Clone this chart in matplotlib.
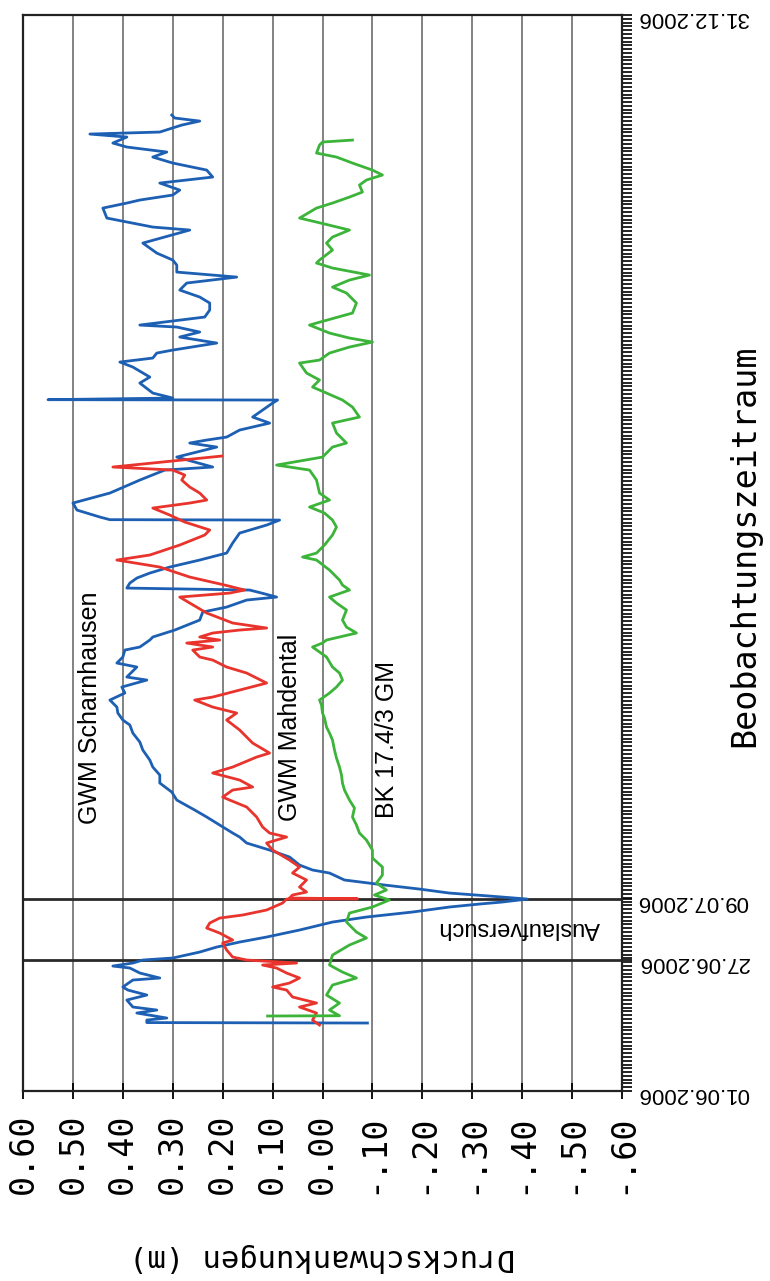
import matplotlib
matplotlib.use('Agg')
import matplotlib.pyplot as plt
from matplotlib.ticker import MultipleLocator

# --- DATEN ---
# Zeit in Tagen seit 01.06.2006, Druckschwankung in m

tage_scharnhausen = [
    13.46, 13.55, 14.05, 14.45, 15.44, 16.03, 16.63, 18.01, 19.00, 19.99,
    20.59, 21.97, 22.37, 23.36, 24.35, 24.74, 25.34, 25.93, 26.33, 27.51,
    28.50, 29.49, 30.48, 31.87, 33.45, 34.44, 35.43, 36.42, 37.01, 37.41,
    38.00, 38.60, 39.19, 39.98, 40.78, 41.77, 43.15, 43.75, 44.73, 46.32,
    47.70, 49.09, 50.28, 51.07, 52.65, 54.24, 55.62, 57.60, 59.18, 60.97,
    62.55, 64.13, 65.52, 67.50, 69.08, 70.86, 72.45, 73.44, 74.82, 76.01,
    77.39, 78.78, 79.97, 81.35, 81.95, 83.93, 84.72, 85.91, 87.29, 87.89,
    89.27, 89.87, 91.25, 93.23, 94.81, 95.80, 97.19, 97.78, 98.57, 99.17,
    99.56, 100.55, 101.54, 102.53, 103.72, 105.11, 106.49, 108.47, 110.45, 112.03,
    113.02, 113.10, 113.62, 115.00, 116.39, 118.37, 120.94, 122.92, 123.52, 125.49,
    127.47, 128.27, 128.86, 129.45, 130.84, 132.22, 133.41, 134.80, 136.18, 136.78,
    136.85, 137.17, 138.16, 140.14, 141.33, 143.31, 144.30, 145.09, 146.08, 146.67,
    148.06, 149.25, 150.24, 151.23, 151.62, 153.21, 154.59, 155.98, 157.17, 158.55,
    159.94, 161.12, 162.11, 163.50, 164.49, 165.87, 167.85, 170.43, 171.02, 172.80,
    174.78, 175.77, 176.37, 177.36, 178.34, 179.73, 180.92, 182.30, 183.69, 184.88,
    185.87, 186.86, 187.65, 188.84, 189.43, 189.83, 191.21, 192.00, 192.60, 193.19,
]
wert_scharnhausen = [
    -0.090, 0.352, 0.352, 0.312, 0.372, 0.332, 0.380, 0.392, 0.352, 0.390,
    0.400, 0.380, 0.326, 0.366, 0.386, 0.420, 0.380, 0.360, 0.300, 0.246,
    0.212, 0.166, 0.112, 0.046, -0.020, -0.088, -0.180, -0.254, -0.314, -0.360,
    -0.410, -0.334, -0.254, -0.194, -0.124, -0.044, -0.014, 0.020, 0.046, 0.066,
    0.106, 0.152, 0.166, 0.180, 0.206, 0.232, 0.256, 0.292, 0.302, 0.326,
    0.326, 0.340, 0.346, 0.360, 0.366, 0.380, 0.386, 0.400, 0.410, 0.412,
    0.426, 0.396, 0.402, 0.352, 0.392, 0.372, 0.412, 0.400, 0.396, 0.366,
    0.346, 0.340, 0.296, 0.246, 0.240, 0.192, 0.152, 0.092, 0.122, 0.146,
    0.392, 0.386, 0.372, 0.346, 0.306, 0.246, 0.192, 0.180, 0.166, 0.112,
    0.086, 0.426, 0.446, 0.492, 0.500, 0.426, 0.366, 0.316, 0.220, 0.292,
    0.212, 0.266, 0.232, 0.192, 0.166, 0.106, 0.140, 0.120, 0.100, 0.090,
    0.550, 0.300, 0.340, 0.366, 0.346, 0.380, 0.406, 0.340, 0.332, 0.300,
    0.212, 0.286, 0.246, 0.292, 0.366, 0.236, 0.226, 0.226, 0.246, 0.286,
    0.272, 0.172, 0.292, 0.292, 0.300, 0.332, 0.360, 0.266, 0.340, 0.432,
    0.440, 0.392, 0.366, 0.300, 0.286, 0.326, 0.220, 0.232, 0.300, 0.340,
    0.312, 0.392, 0.420, 0.392, 0.466, 0.326, 0.282, 0.246, 0.296, 0.302,
]

tage_mahdental = [
    13.06, 14.05, 15.44, 16.63, 17.42, 18.61, 19.99, 20.59, 21.38, 22.37,
    23.36, 24.35, 24.94, 25.34, 25.93, 26.52, 27.91, 29.30, 29.89, 31.27,
    32.26, 33.25, 34.24, 34.84, 35.83, 37.21, 38.00, 38.05, 38.20, 38.80,
    39.39, 40.38, 41.77, 43.15, 44.34, 45.72, 47.70, 49.09, 50.28, 51.07,
    52.26, 54.24, 56.22, 57.60, 58.19, 59.58, 60.17, 61.56, 62.95, 64.13,
    66.11, 66.90, 68.88, 71.46, 73.44, 74.82, 76.01, 77.39, 77.99, 79.37,
    80.76, 82.74, 83.93, 85.31, 85.91, 87.29, 87.89, 88.68, 89.27, 89.87,
    90.66, 91.25, 91.65, 92.64, 94.62, 96.60, 97.78, 98.57, 99.17, 100.16,
    101.74, 103.72, 105.11, 106.10, 108.08, 110.06, 111.05, 112.63, 114.01, 115.40,
    116.39, 116.98, 118.37, 119.56, 120.94, 121.93, 122.92, 123.52, 125.69,
]
wert_mahdental = [
    0.006, 0.020, 0.012, 0.046, 0.012, 0.060, 0.072, 0.100, 0.066, 0.046,
    0.072, 0.092, 0.120, 0.052, 0.152, 0.180, 0.192, 0.200, 0.180, 0.206,
    0.232, 0.226, 0.206, 0.160, 0.112, 0.080, 0.072, -0.070, 0.066, 0.060,
    0.032, 0.046, 0.032, 0.060, 0.046, 0.066, 0.100, 0.112, 0.072, 0.106,
    0.120, 0.132, 0.152, 0.186, 0.200, 0.180, 0.140, 0.166, 0.220, 0.180,
    0.132, 0.106, 0.140, 0.166, 0.192, 0.172, 0.220, 0.256, 0.220, 0.166,
    0.112, 0.152, 0.192, 0.220, 0.246, 0.260, 0.220, 0.272, 0.206, 0.246,
    0.220, 0.166, 0.112, 0.180, 0.232, 0.266, 0.286, 0.186, 0.156, 0.196,
    0.266, 0.326, 0.412, 0.346, 0.286, 0.236, 0.226, 0.276, 0.306, 0.340,
    0.266, 0.232, 0.246, 0.266, 0.282, 0.276, 0.300, 0.420, 0.202,
]

tage_bk = [
    14.85, 14.90, 16.03, 17.42, 19.00, 20.98, 22.37, 23.55, 24.94, 26.92,
    28.90, 30.29, 31.47, 33.45, 35.23, 36.42, 37.81, 38.80, 39.79, 41.17,
    42.76, 44.34, 46.12, 47.70, 49.68, 51.07, 52.65, 54.24, 56.02, 57.60,
    59.58, 60.97, 62.55, 64.13, 65.91, 67.50, 69.48, 70.86, 72.05, 73.83,
    74.82, 76.41, 77.39, 78.78, 79.97, 81.35, 82.74, 83.93, 85.91, 87.89,
    88.68, 89.27, 90.66, 91.84, 93.23, 95.21, 96.60, 97.78, 99.17, 100.16,
    101.15, 103.13, 105.11, 105.70, 106.49, 108.08, 110.06, 111.64, 113.02, 114.41,
    115.60, 116.98, 118.37, 120.94, 122.92, 123.91, 125.49, 127.47, 128.27, 130.25,
    132.22, 133.41, 135.39, 136.78, 138.16, 139.35, 140.74, 142.12, 144.10, 144.69,
    146.08, 147.27, 148.26, 149.05, 150.04, 151.62, 152.02, 154.00, 155.98, 157.96,
    159.14, 160.53, 161.52, 162.91, 163.90, 164.49, 166.47, 167.85, 169.04, 170.43,
    172.01, 172.80, 174.78, 175.77, 176.96, 177.95, 179.34, 180.33, 181.32, 182.30,
    183.69, 184.88, 185.67, 187.25, 187.85, 188.24,
]
wert_bk = [
    0.110, -0.034, -0.014, -0.034, -0.008, -0.020, -0.068, -0.040, -0.014, -0.020,
    -0.054, -0.088, -0.068, -0.048, -0.054, -0.100, -0.134, -0.104, -0.128, -0.108,
    -0.120, -0.120, -0.100, -0.100, -0.088, -0.074, -0.068, -0.060, -0.064, -0.054,
    -0.044, -0.040, -0.038, -0.034, -0.028, -0.024, -0.020, -0.014, -0.008, -0.004,
    0.000, 0.002, 0.006, -0.014, -0.028, -0.040, -0.034, -0.020, -0.008, 0.020,
    0.000, -0.008, -0.068, -0.048, -0.040, -0.048, -0.028, -0.014, -0.054, -0.040,
    -0.034, -0.014, 0.012, 0.040, 0.012, -0.004, -0.020, -0.028, -0.020, -0.004,
    0.026, -0.014, 0.006, 0.012, 0.026, 0.092, 0.000, -0.020, -0.048, -0.028,
    -0.020, -0.074, -0.060, -0.040, -0.008, 0.020, 0.006, 0.032, 0.046, 0.006,
    -0.014, -0.054, -0.100, -0.054, -0.014, 0.026, 0.012, -0.060, -0.068, -0.048,
    -0.020, -0.054, -0.094, -0.020, 0.012, 0.006, -0.020, -0.008, -0.020, -0.054,
    0.012, 0.046, 0.012, -0.020, -0.054, -0.080, -0.074, -0.088, -0.120, -0.100,
    -0.060, -0.028, 0.012, 0.006, 0.000, -0.060,
]

# Achsen
druck_ticks = [0.6, 0.5, 0.4, 0.3, 0.2, 0.1, 0.0, -0.1, -0.2, -0.3, -0.4, -0.5, -0.6]
druck_labels = ['0.60', '0.50', '0.40', '0.30', '0.20', '0.10', '0.00',
                '-.10', '-.20', '-.30', '-.40', '-.50', '-.60']
datum_ticks = [0, 26, 38, 213]
datum_labels = ['01.06.2006', '27.06.2006', '09.07.2006', '31.12.2006']
versuch_tage = [26, 38]   # Beginn / Ende Auslaufversuch

BLAU = '#1d5fb3'
ROT = '#e8342c'
GRUEN = '#3cb43a'
MONO = ['DejaVu Sans Mono']
SANS = ['Liberation Sans', 'DejaVu Sans']


def gerar_grafico():
    fig = plt.figure(figsize=(7.70, 12.81), dpi=100)
    ax = fig.add_axes([0.0299, 0.1483, 0.7779, 0.8400])

    # gedrehte Darstellung: Druck horizontal (0.60 links), Zeit vertikal
    ax.set_xlim(0.6, -0.6)
    ax.set_ylim(0, 213)

    for x in druck_ticks[1:-1]:
        ax.axvline(x, color='#606060', lw=1.1, zorder=1)
    for t in versuch_tage:
        ax.axhline(t, color='#2a2a2a', lw=2.0, zorder=1)

    ax.plot(wert_scharnhausen, tage_scharnhausen, color=BLAU, lw=2.0, zorder=3)
    ax.plot(wert_mahdental, tage_mahdental, color=ROT, lw=2.0, zorder=4)
    ax.plot(wert_bk, tage_bk, color=GRUEN, lw=2.0, zorder=4)

    # Beschriftung der Kurven
    ax.text(0.466, 75.8, 'GWM Scharnhausen', rotation=90, ha='center', va='center',
            fontsize=18, family=SANS, zorder=5)
    ax.text(0.066, 71.9, 'GWM Mahdental', rotation=90, ha='center', va='center',
            fontsize=18, family=SANS, zorder=5)
    ax.text(-0.13, 69.5, 'BK 17.4/3 GM', rotation=90, ha='center', va='center',
            fontsize=18, family=SANS, zorder=5)
    ax.text(-0.394, 32.3, 'Auslaufversuch', rotation=180, ha='center', va='center',
            fontsize=17, family=SANS, zorder=5)

    # Druckachse unten
    ax.set_xticks(druck_ticks)
    ax.set_xticklabels(druck_labels, rotation=90, family=MONO, fontsize=24)
    ax.tick_params(axis='x', direction='inout', length=12, width=1.3, pad=10)
    ax.set_xlabel('Druckschwankungen (m)', rotation=180, family=MONO, fontsize=22,
                  va='center', ha='center')
    ax.xaxis.set_label_coords(0.5, -0.155)

    # Zeitachse rechts
    ax.yaxis.tick_right()
    ax.yaxis.set_label_position('right')
    ax.set_yticks(datum_ticks)
    ax.set_yticklabels(datum_labels, rotation=180, family=SANS, fontsize=16)
    ax.yaxis.set_minor_locator(MultipleLocator(0.75))
    ax.tick_params(axis='y', which='both', direction='out', length=7, width=1.2, pad=4)
    ax.set_ylabel('Beobachtungszeitraum', rotation=90, family=MONO, fontsize=24,
                  va='center', ha='center')
    ax.yaxis.set_label_coords(1.205, 0.507)

    for s in ax.spines.values():
        s.set_color('#222222')
        s.set_linewidth(1.6)

    plt.savefig('out.png', dpi=100)


if __name__ == '__main__':
    gerar_grafico()
